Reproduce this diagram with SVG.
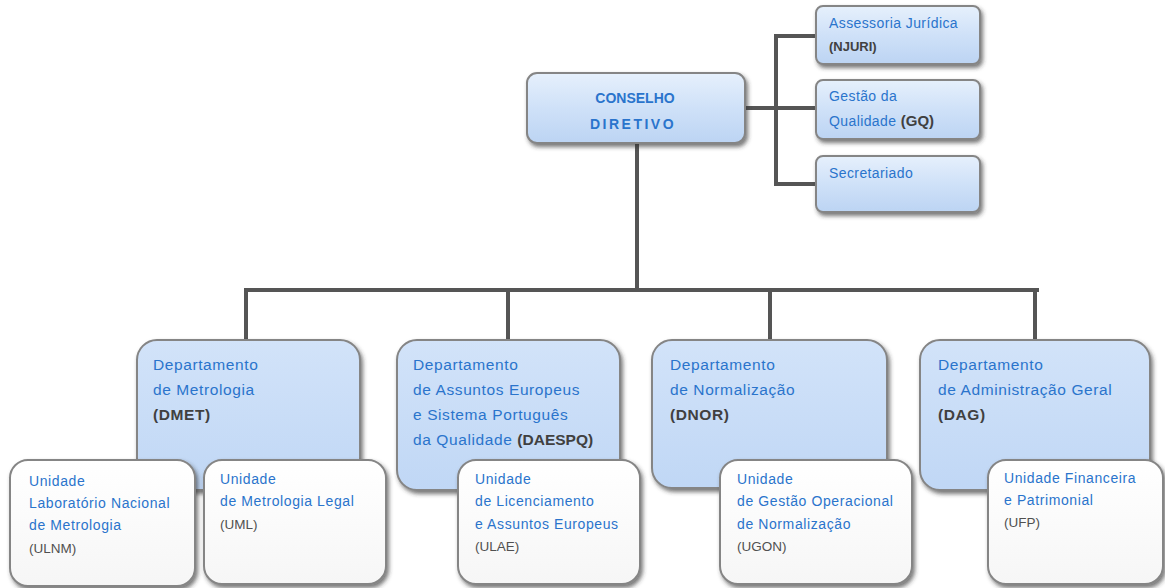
<svg xmlns="http://www.w3.org/2000/svg" width="1165" height="588" viewBox="0 0 1165 588">
<defs>
<linearGradient id="blueTop" x1="0" y1="0" x2="0" y2="1">
<stop offset="0" stop-color="#e6f0fc"/>
<stop offset="0.5" stop-color="#cfe1f8"/>
<stop offset="1" stop-color="#bcd4f3"/>
</linearGradient>
<linearGradient id="blueDept" x1="0" y1="0" x2="0" y2="1">
<stop offset="0" stop-color="#d2e3f9"/>
<stop offset="1" stop-color="#c0d7f5"/>
</linearGradient>
<linearGradient id="white" x1="0" y1="0" x2="0" y2="1">
<stop offset="0" stop-color="#ffffff"/>
<stop offset="1" stop-color="#f6f6f6"/>
</linearGradient>
<filter id="sh" x="-10%" y="-10%" width="125%" height="130%">
<feDropShadow dx="2" dy="3" stdDeviation="2" flood-color="#333" flood-opacity="0.65"/>
</filter>
<style>
.box{stroke:#858585;stroke-width:2;filter:url(#sh)}
.b1{fill:url(#blueTop)}
.b2{fill:url(#blueDept)}
.w{fill:url(#white)}
.conn{fill:none;stroke:#555;stroke-width:4;stroke-linecap:square}
text{font-family:"Liberation Sans",Arial,sans-serif}
.bl{fill:#2a74cc}
.gb{fill:#404040;font-weight:bold}
.gn{fill:#505050}
.d{font-size:15.5px;letter-spacing:0.6px}
.u{font-size:14px;letter-spacing:0.6px}
.r{font-size:14px;letter-spacing:0.4px}
</style>
</defs>
<g id="connectors">
<path class="conn" d="M745 108 H776 M776 36 V184 M776 36 H816 M776 108 H816 M776 184 H816"/>
<path class="conn" d="M637 143 V290 M246 290 H1037 M246 290 V340 M508 290 V340 M770 290 V340 M1035 290 V340"/>
</g>
<g id="conselho">
<rect class="box b1" x="527" y="73" width="218" height="70" rx="10"/>
<text x="635" y="103" text-anchor="middle" class="bl" font-weight="bold" font-size="14">CONSELHO</text>
<text x="633" y="129" text-anchor="middle" class="bl" font-weight="bold" font-size="14" letter-spacing="2.5">DIRETIVO</text>
</g>
<g id="njuri">
<rect class="box b1" x="816" y="6" width="164" height="58" rx="7"/>
<text x="829" y="28" class="bl r">Assessoria Jurídica</text>
<text x="829" y="51" class="gb" font-size="13">(NJURI)</text>
</g>
<g id="gq">
<rect class="box b1" x="816" y="80" width="164" height="59" rx="7"/>
<text x="829" y="101" class="bl r">Gestão da</text>
<text x="829" y="126" class="bl r">Qualidade <tspan class="gb" font-size="15" letter-spacing="0">(GQ)</tspan></text>
</g>
<g id="secretariado">
<rect class="box b1" x="816" y="156" width="164" height="56" rx="7"/>
<text x="829" y="178" class="bl r">Secretariado</text>
</g>
<g id="dmet">
<rect class="box b2" x="137" y="340" width="223" height="150" rx="20"/>
<text x="153" y="370" class="bl d">Departamento</text>
<text x="153" y="395" class="bl d">de Metrologia</text>
<text x="153" y="420" class="gb d">(DMET)</text>
</g>
<g id="daespq">
<rect class="box b2" x="397" y="340" width="223" height="150" rx="20"/>
<text x="413" y="370" class="bl d">Departamento</text>
<text x="413" y="395" class="bl d">de Assuntos Europeus</text>
<text x="413" y="420" class="bl d">e Sistema Português</text>
<text x="413" y="445" class="bl d">da Qualidade <tspan class="gb" letter-spacing="0">(DAESPQ)</tspan></text>
</g>
<g id="dnor">
<rect class="box b2" x="652" y="340" width="235" height="148" rx="20"/>
<text x="670" y="370" class="bl d">Departamento</text>
<text x="670" y="395" class="bl d">de Normalização</text>
<text x="670" y="420" class="gb d">(DNOR)</text>
</g>
<g id="dag">
<rect class="box b2" x="920" y="340" width="230" height="150" rx="20"/>
<text x="938" y="370" class="bl d">Departamento</text>
<text x="938" y="395" class="bl d">de Administração Geral</text>
<text x="938" y="420" class="gb d">(DAG)</text>
</g>
<g id="ulnm">
<rect class="box w" x="10" y="460" width="185" height="126" rx="18"/>
<text x="29" y="486" class="bl u">Unidade</text>
<text x="29" y="508" class="bl u">Laboratório Nacional</text>
<text x="29" y="530" class="bl u">de Metrologia</text>
<text x="29" y="553" class="gn" font-size="13.5">(ULNM)</text>
</g>
<g id="uml">
<rect class="box w" x="204" y="460" width="182" height="124" rx="18"/>
<text x="220" y="484" class="bl u">Unidade</text>
<text x="220" y="506" class="bl u">de Metrologia Legal</text>
<text x="220" y="529" class="gn" font-size="13.5">(UML)</text>
</g>
<g id="ulae">
<rect class="box w" x="458" y="460" width="182" height="124" rx="18"/>
<text x="475" y="484" class="bl u">Unidade</text>
<text x="475" y="506" class="bl u">de Licenciamento</text>
<text x="475" y="529" class="bl u">e Assuntos Europeus</text>
<text x="475" y="551" class="gn" font-size="13.5">(ULAE)</text>
</g>
<g id="ugon">
<rect class="box w" x="720" y="460" width="192" height="124" rx="18"/>
<text x="737" y="484" class="bl u">Unidade</text>
<text x="737" y="506" class="bl u">de Gestão Operacional</text>
<text x="737" y="529" class="bl u">de Normalização</text>
<text x="737" y="551" class="gn" font-size="13.5">(UGON)</text>
</g>
<g id="ufp">
<rect class="box w" x="988" y="460" width="175" height="124" rx="18"/>
<text x="1004" y="483" class="bl u">Unidade Financeira</text>
<text x="1004" y="505" class="bl u">e Patrimonial</text>
<text x="1004" y="527" class="gn" font-size="13.5">(UFP)</text>
</g>
</svg>
